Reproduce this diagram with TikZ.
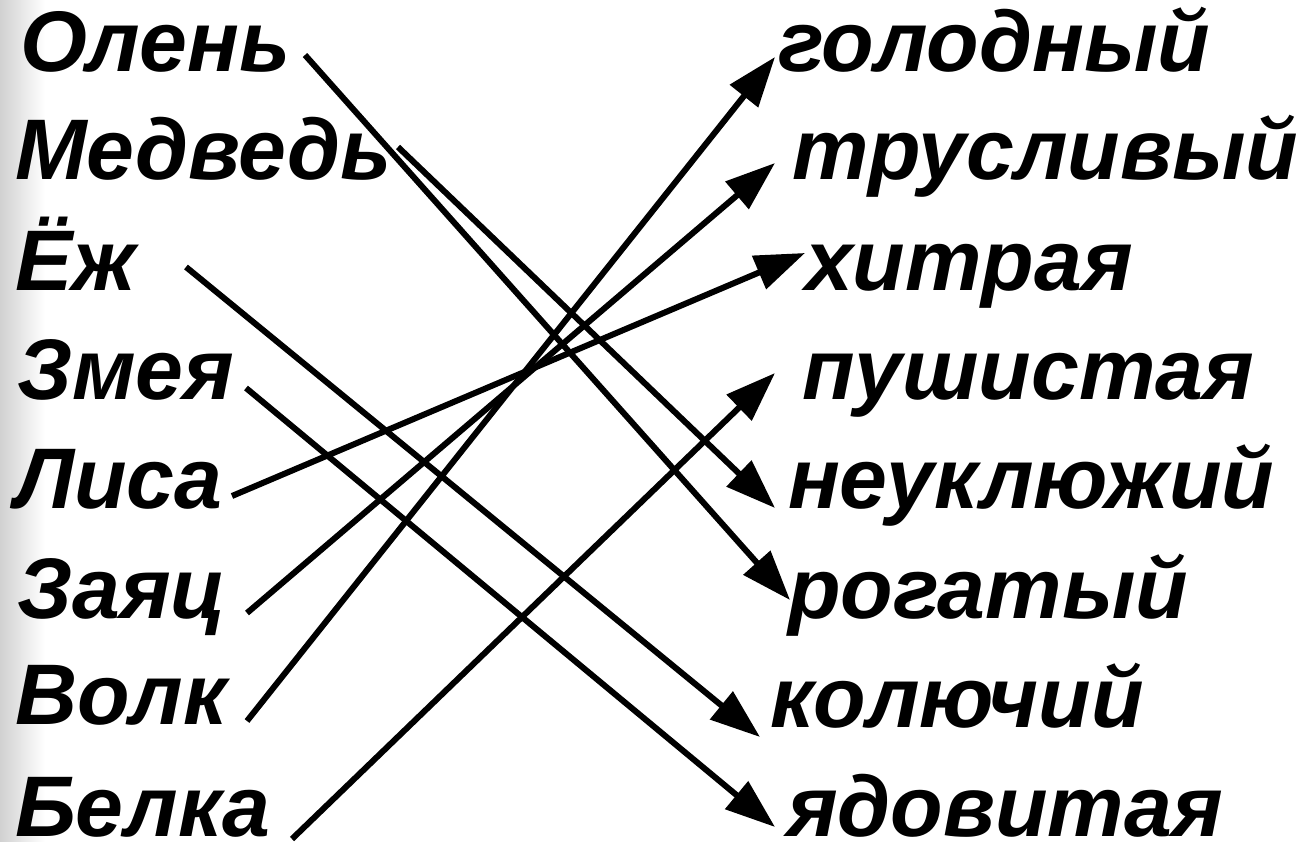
\documentclass[tikz,border=0pt]{standalone}
\usepackage{fontspec}
\setmainfont{Liberation Sans}
\usetikzlibrary{arrows.meta}
\tikzset{
  word/.style={anchor=base west, inner sep=0pt, outer sep=0pt, font=\fontsize{86}{86}\selectfont\bfseries\itshape},
  link/.style={line width=6pt, line cap=butt},
  arr/.style={link, -{Triangle[length=50pt,width=35pt]}}
}
\begin{document}
\begin{tikzpicture}[x=1pt,y=-1pt]
\useasboundingbox (0,0) rectangle (1313,842);
\shade[left color=black!18, right color=white] (0,0) rectangle (45,842);
% left words
\node[word] (olen) at (20,72) {Олень};
\node[word] (medved) at (15,180) {Медведь};
\node[word] (ezh) at (15,290) {Ёж};
\node[word] (zmeya) at (17,399) {Змея};
\node[word] (lisa) at (15,508) {Лиса};
\node[word] (zayac) at (17,618) {Заяц};
\node[word] (volk) at (15,724) {Волк};
\node[word] (belka) at (15,836) {Белка};
% right words
\node[word] (golod) at (778,72) {голодный};
\node[word] (trus) at (792,180) {трусливый};
\node[word] (hitr) at (805,290) {хитрая};
\node[word] (push) at (802,399) {пушистая};
\node[word] (neuk) at (788,508) {неуклюжий};
\node[word] (rogat) at (788,618) {рогатый};
\node[word] (koluch) at (770,727) {колючий};
\node[word] (yadov) at (787,836) {ядовитая};
% connector ends
\coordinate (s1) at (305,55);  \coordinate (t1) at (790,600);
\coordinate (s2) at (398,147); \coordinate (t2) at (775,508);
\coordinate (s3) at (186,267); \coordinate (t3) at (760,737);
\coordinate (s4) at (246,388); \coordinate (t4) at (775,827);
\coordinate (s5) at (232,496); \coordinate (t5) at (805,253);
\coordinate (s6) at (247,613); \coordinate (t6) at (775,163);
\coordinate (s7) at (247,721); \coordinate (t7) at (775,57);
\coordinate (s8) at (292,839); \coordinate (t8) at (775,373);
\draw[arr] (s1) -- (t1);
\draw[arr] (s2) -- (t2);
\draw[arr] (s3) -- (t3);
\draw[arr] (s4) -- (t4);
\draw[arr] (s5) -- (t5);
\draw[arr] (s6) -- (t6);
\draw[arr] (s7) -- (t7);
\draw[arr] (s8) -- (t8);
\end{tikzpicture}
\end{document}
